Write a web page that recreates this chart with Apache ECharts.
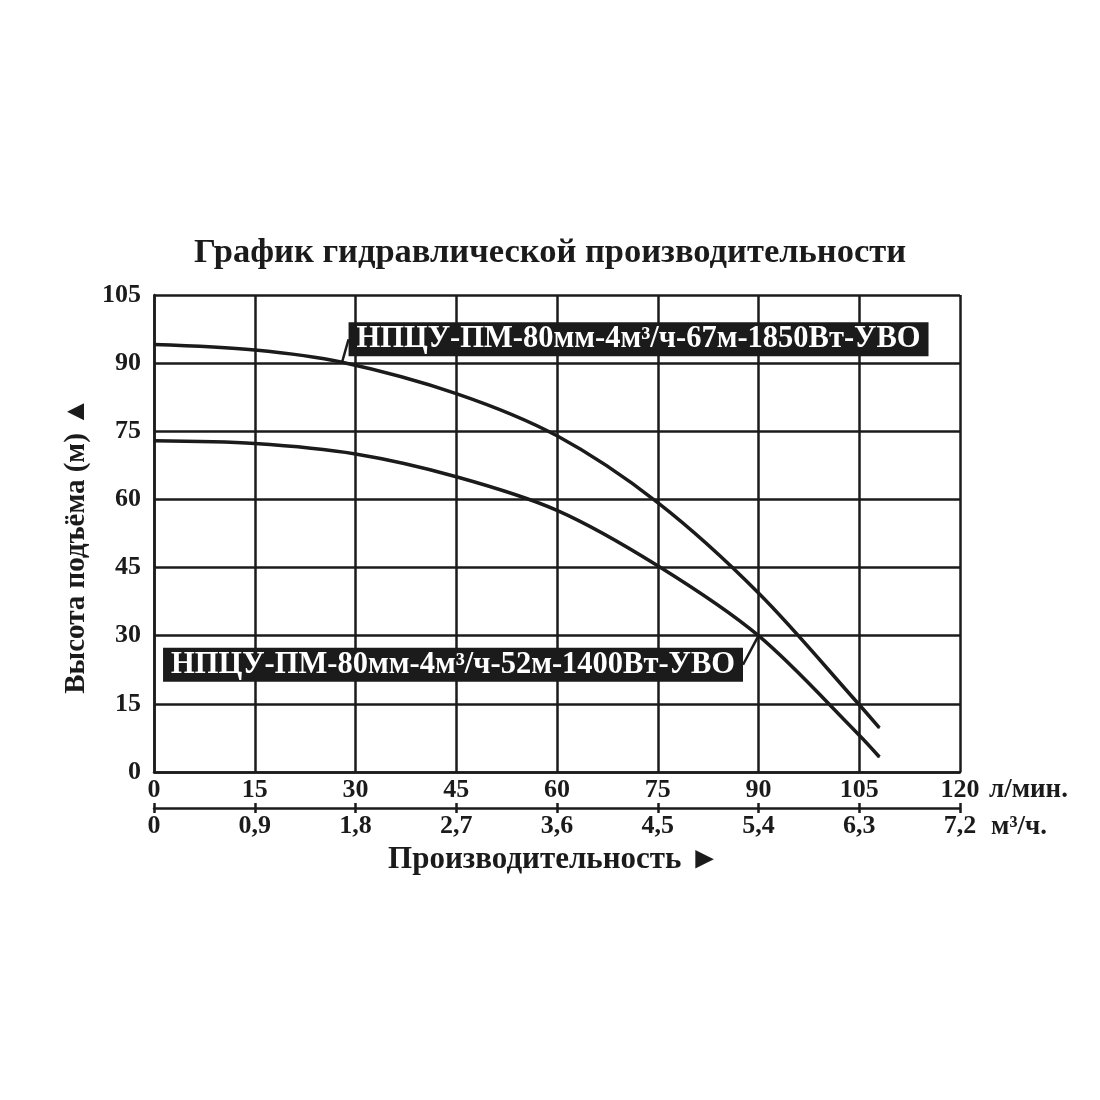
<!DOCTYPE html>
<html>
<head>
<meta charset="utf-8">
<script src="https://cdn.jsdelivr.net/npm/echarts@6/dist/echarts.min.js"></script>
<style>html,body{margin:0;padding:0;background:#fff}#c{width:1100px;height:1100px}</style>
</head>
<body>
<div id="c"></div>
<script>
const titleText = 'График гидравлической производительности';
const yTicks = [0, 15, 30, 45, 60, 75, 90, 105];
const xTicksLpm = [0, 15, 30, 45, 60, 75, 90, 105, 120];
const xTicksM3 = ['0', '0,9', '1,8', '2,7', '3,6', '4,5', '5,4', '6,3', '7,2'];
const pump1850Name = 'НПЦУ-ПМ-80мм-4м³/ч-67м-1850Вт-УВО';
const pump1850X = [0, 15, 28, 45, 60, 75, 90, 105, 108];
const pump1850Y = [94.1, 92.9, 90.2, 83.3, 74.0, 59.3, 39.4, 14.8, 9.7];
const pump1400Name = 'НПЦУ-ПМ-80мм-4м³/ч-52м-1400Вт-УВО';
const pump1400X = [0, 15, 30, 45, 60, 75, 90, 105, 108];
const pump1400Y = [72.9, 72.3, 70.0, 65.0, 57.6, 45.4, 30.0, 8.1, 3.3];
const label1850Index = 2;
const label1400Index = 6;

const FONT = 'Liberation Serif';
const INK = '#1b1b1b';

function buildData(xs, ys, labelIdx, labelText, side) {
  return xs.map((x, i) => {
    const item = { value: [x, ys[i]] };
    if (i === labelIdx) {
      item.label = {
        show: true,
        formatter: labelText,
        position: side,
        distance: 4,
        color: '#fff',
        backgroundColor: '#1b1b1b',
        fontFamily: FONT,
        fontWeight: 'bold',
        fontSize: 30.5,
        padding: [2, 8, 1, 8]
      };
      item.labelLine = { show: true, lineStyle: { color: INK, width: 2.5 } };
    }
    return item;
  });
}

const chart = echarts.init(document.getElementById('c'));
const labelStyle = { color: INK, fontFamily: FONT, fontWeight: 'bold', fontSize: 26 };

chart.setOption({
  backgroundColor: '#fff',
  animation: false,
  title: {
    text: titleText,
    left: 'center',
    top: 231,
    textStyle: { color: INK, fontFamily: FONT, fontWeight: 'bold', fontSize: 34.5 }
  },
  grid: { left: 154, right: 140, top: 295, bottom: 328 },
  xAxis: [
    {
      type: 'value', min: 0, max: 120, interval: 15,
      axisLine: { show: true, lineStyle: { color: INK, width: 2.5 } },
      axisTick: { show: false },
      splitLine: { show: true, lineStyle: { color: INK, width: 2.5 } },
      axisLabel: Object.assign({ margin: 5, formatter: v => xTicksLpm.includes(v) ? String(v) : '' }, labelStyle),
      name: 'л/мин.',
      nameLocation: 'end',
      nameGap: 29,
      nameTextStyle: Object.assign({ align: 'left', verticalAlign: 'top', padding: [5, 0, 0, 0] }, labelStyle, { fontSize: 27 })
    },
    {
      type: 'value', min: 0, max: 120, interval: 15,
      position: 'bottom', offset: 36,
      axisLine: { show: true, lineStyle: { color: INK, width: 2.5 } },
      axisTick: { show: true, length: 5, lineStyle: { color: INK, width: 2.5 } },
      splitLine: { show: false },
      axisLabel: Object.assign({ margin: 5, formatter: v => xTicksM3[xTicksLpm.indexOf(v)] }, labelStyle),
      name: 'м³/ч.',
      nameLocation: 'end',
      nameGap: 31,
      nameTextStyle: Object.assign({ align: 'left', verticalAlign: 'top', padding: [6, 0, 0, 0] }, labelStyle, { fontSize: 27 })
    },
    {
      type: 'value', min: 0, max: 120, interval: 15,
      position: 'bottom', offset: 36,
      axisLine: { show: false },
      axisTick: { show: true, inside: true, length: 5, lineStyle: { color: INK, width: 2.5 } },
      splitLine: { show: false },
      axisLabel: { show: false },
      name: 'Производительность ►',
      nameLocation: 'middle',
      nameGap: 36,
      nameTextStyle: { color: INK, fontFamily: FONT, fontWeight: 'bold', fontSize: 31, padding: [0, 6, 0, 0] }
    }
  ],
  yAxis: {
    type: 'value', min: 0, max: 105, interval: 15,
    axisLine: { show: true, lineStyle: { color: INK, width: 2.5 } },
    axisTick: { show: false },
    splitLine: { show: true, lineStyle: { color: INK, width: 2.5 } },
    axisLabel: Object.assign({ margin: 13, formatter: v => yTicks.includes(v) ? String(v) : '' }, labelStyle),
    name: 'Высота подъёма (м) ▲',
    nameLocation: 'middle',
    nameGap: 62,
    nameTextStyle: { color: INK, fontFamily: FONT, fontWeight: 'bold', fontSize: 29, padding: [0, 24, 0, 0] }
  },
  series: [
    {
      name: pump1850Name,
      type: 'line',
      smooth: 0.33,
      symbol: 'circle',
      symbolSize: 1,
      itemStyle: { color: INK },
      lineStyle: { color: INK, width: 3.5 },
      data: buildData(pump1850X, pump1850Y, label1850Index, pump1850Name, 'right'),
      labelLayout: { dx: 2, dy: -23 }
    },
    {
      name: pump1400Name,
      type: 'line',
      smooth: 0.33,
      symbol: 'circle',
      symbolSize: 1,
      itemStyle: { color: INK },
      lineStyle: { color: INK, width: 3.5 },
      data: buildData(pump1400X, pump1400Y, label1400Index, pump1400Name, 'left'),
      labelLayout: { dx: -11, dy: 29 }
    }
  ]
});
</script>
</body>
</html>
